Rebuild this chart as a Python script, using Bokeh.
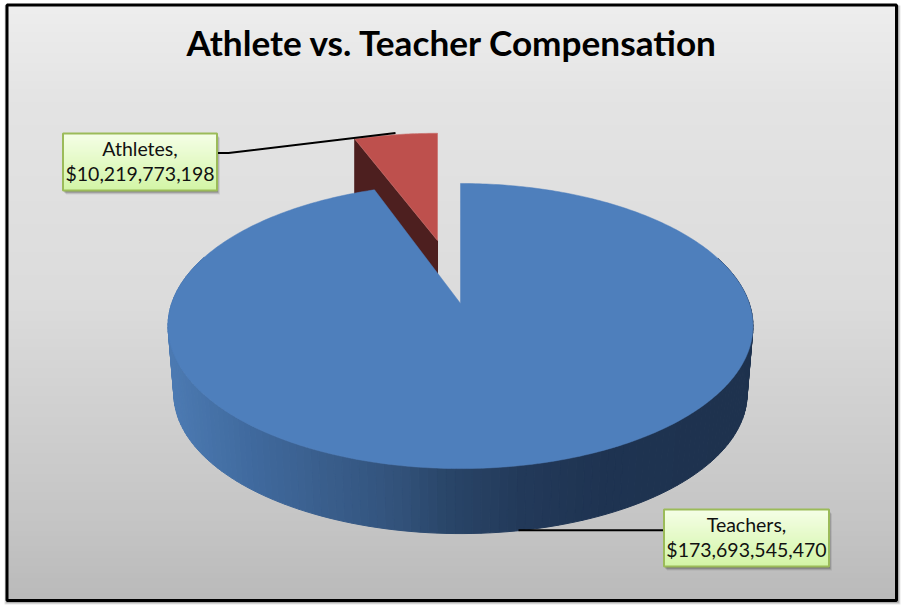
import numpy as np
from bokeh.plotting import figure
from bokeh.embed import file_html
from bokeh.resources import INLINE
from bokeh.core.properties import value

# ---- data
categories = ["Teachers", "Athletes"]
compensation = [173693545470, 10219773198]
chart_title = "Athlete vs. Teacher Compensation"

# ---- page geometry (pixels of the picture)
W, H = 901, 606
p = figure(width=W, height=H, x_range=(0, W), y_range=(H, 0), output_backend="svg",
           toolbar_location=None, min_border=0, margin=(0, 0, 0, 0),
           background_fill_color="white", border_fill_color="white", outline_line_color=None)
p.axis.visible = False
p.grid.visible = False

# ---- background gradient
stops_y = [4, 100, 300, 530, 600]
stops_g = [238, 228, 220, 196, 186]
ys = np.arange(5, 600, 3)
gs = np.interp(ys + 1.5, stops_y, stops_g).astype(int)
# chart area drop shadow
for off, a in [(3, 0.10), (2, 0.15), (1, 0.2)]:
    p.quad(left=[6 - off + 1], right=[897 + off], top=[5], bottom=[601 + off],
           fill_color="black", fill_alpha=a, line_color=None)
p.quad(left=6, right=896, top=ys, bottom=np.minimum(ys + 5, 600),
       fill_color=[f"#{g:02x}{g:02x}{g:02x}" for g in gs], line_color=None)
p.quad(left=[6.5], right=[896], top=[4.5], bottom=[600], fill_color=None,
       line_color="black", line_width=3)

# ---- pie geometry
total = sum(compensation)
ath_deg = 360 * compensation[1] / total
cx, cy = 460.0, 303.0
A, B, K = 288.8, 139.0, 0.158


def proj(theta_deg, r=1.0, u0=0.0, v0=0.0):
    t = np.radians(theta_deg)
    u = r * np.sin(t) + u0
    v = r * np.cos(t) + v0
    d = 1 + K * v
    return A * (u - u0) / d, -B * v / d


def lower(x, y, s=0.98, yc=371.3):
    return cx + s * x, yc + s * y


# side of the teachers slice: vertical shading bands
side_x = [170, 250, 300, 400, 445, 520, 600, 750]
side_r = [76, 64, 60, 50, 42, 35, 31, 30]
side_g = [122, 106, 98, 82, 70, 58, 52, 50]
side_b = [178, 158, 146, 122, 105, 90, 82, 78]
th = np.arange(70, 291, 1.5)
xs_band, ys_band, cols = [], [], []
for t0, t1 in zip(th[:-1], th[1:]):
    x0, y0 = proj(t0)
    x1, y1 = proj(t1)
    bx0, by0 = lower(x0, y0)
    bx1, by1 = lower(x1, y1)
    xs_band.append([cx + x0, cx + x1, bx1, bx0])
    ys_band.append([cy + y0, cy + y1, by1, by0])
    mx = cx + (x0 + x1) / 2
    r = int(np.interp(mx, side_x, side_r))
    g = int(np.interp(mx, side_x, side_g))
    b = int(np.interp(mx, side_x, side_b))
    cols.append(f"#{r:02x}{g:02x}{b:02x}")
p.patches(xs_band, ys_band, fill_color=cols, line_color=cols, line_width=1)

# athletes slice (pulled out towards the back)
rx, ry = 437.0, 240.0
mid = -ath_deg / 2
e = 0.496
u0, v0 = e * np.sin(np.radians(mid)), e * np.cos(np.radians(mid))
ath_t = np.linspace(-ath_deg, 0, 30)
ax, ay = proj(ath_t, 1.03, u0, v0)
ay = ay - (-B * v0 / (1 + K * v0))
red_x = rx + ax
red_y = ry + ay
depth = 55
p.patch([rx, red_x[0], red_x[0], rx], [ry, red_y[0], red_y[0] + depth, ry + depth],
        fill_color="#4d1f1f", line_color="#4d1f1f", line_width=1)
p.patch(np.r_[rx, red_x], np.r_[ry, red_y], fill_color="#be504d", line_color="#c8706d", line_width=0.7)

# teachers slice top
tch_t = np.linspace(0, 360 - ath_deg, 400)
tx, ty = proj(tch_t)
p.patch(np.r_[cx, cx + tx], np.r_[cy, cy + ty], fill_color="#4e7fbc", line_color="#4e7fbc", line_width=0.5)

# ---- leader lines
p.line([217, 228, 395], [152.5, 152.5, 132.5], line_color="black", line_width=2)
p.line([518, 664], [529.7, 529.7], line_color="black", line_width=2)


# ---- labels
def label(x0, x1, y0, y1, name, val):
    for off, a in [(4, 0.08), (3, 0.14), (2, 0.2)]:
        p.quad(left=[x0 + off - 1], right=[x1 + off - 1], top=[y0 + off], bottom=[y1 + off],
               fill_color="black", fill_alpha=a, line_color=None)
    yy = np.arange(y0, y1, 2.0)
    f = (yy - y0) / (y1 - y0)
    c = [f"#{int(245 - 35 * t):02x}{int(255 - 10 * t):02x}{int(230 - 65 * t):02x}" for t in f]
    p.quad(left=x0, right=x1, top=yy, bottom=np.minimum(yy + 4, y1), fill_color=c, line_color=None)
    p.quad(left=[x0], right=[x1], top=[y0], bottom=[y1], fill_color=None,
           line_color="#9bbb59", line_width=2)
    xc = (x0 + x1) / 2
    p.text([xc], [y0 + 14.5], text=[name + ","], text_font=value("Lato"), text_font_size="19.5px",
           text_align="center", text_baseline="middle", text_color="#111111")
    p.text([xc], [y0 + 39.5], text=[f"${val:,}"], text_font=value("Lato"), text_font_size="19.5px",
           text_align="center", text_baseline="middle", text_color="#111111")


label(62.5, 216.5, 133, 190, categories[1], compensation[1])
label(663.5, 828.5, 509, 566, categories[0], compensation[0])

p.text([452], [41], text=[chart_title], text_font=value("Lato"), text_font_size="35.2px",
       text_font_style="bold", text_align="center", text_baseline="middle", text_color="black")

open("out.html", "w").write(file_html(p, INLINE))
